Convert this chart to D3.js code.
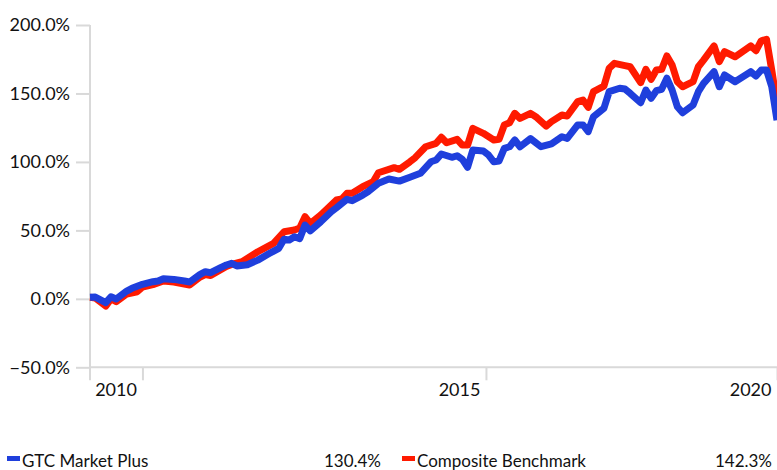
<!DOCTYPE html>
<html><head><meta charset="utf-8">
<script src="https://cdn.jsdelivr.net/npm/d3@7"></script>
<style>body{margin:0;background:#fff}svg{display:block}</style>
</head><body><svg id="c" width="777" height="470"></svg>
<script>
const yTicks = [-50, 0, 50, 100, 150, 200];
const xTickMonths = [10, 75.5, 131];
const xTickLabels = ["2010", "2015", "2020"];
const seriesNames = ["GTC Market Plus", "Composite Benchmark"];
const seriesTotals = ["130.4%", "142.3%"];
const seriesColors = ["#1f3fdc", "#ff1a00"];

const gtcMonths = [0,1,3,4,5,7,8,10,12,13,14,16,18,19,21,22,23,25,26,27,28,30,32,34,36,37,38,39,40,41,42,44,46,47,49,50,52,53,55,57,59,61,63,65,66,67,69,70,71,72,73,75,76,77,78,79,80,81,82,84,86,88,90,91,93,94,95,96,98,99,101,102,103,105,106,107,108,109,110,111,112,113,115,116,117,119,120,121,123,126,127,128,129,130,131];
const gtcValues = [1.1,1.3,-2.8,1.5,-0.1,5.7,7.7,10.6,12.5,13.0,14.7,14.2,13.0,12.3,17.9,19.8,19.1,23.0,24.7,25.9,24.0,24.9,28.3,32.7,36.9,43.5,43.0,45.4,44.0,53.9,49.7,56.3,63.6,66.5,72.7,71.7,75.8,78.2,84.4,87.5,86.0,88.8,91.7,100.1,101.4,105.8,103.4,104.5,101.9,96.1,108.7,108.0,105.0,100.1,100.7,109.9,111.1,116.0,111.1,117.0,111.1,113.1,118.4,117.2,127.0,127.0,122.1,133.0,139.2,151.3,153.8,153.2,150.1,143.2,152.5,146.5,152.0,153.0,161.1,152.5,140.3,135.9,141.6,151.3,157.4,165.9,154.9,163.5,158.6,165.9,162.7,167.1,167.1,154.9,130.4];

const benchMonths = [0,1,3,4,5,7,9,10,12,14,16,18,19,21,22,23,25,26,27,29,32,35,37,39,40,41,42,44,46,47,48,49,50,52,54,55,58,59,61,62,64,66,67,68,70,71,72,73,75,77,78,79,80,81,82,84,85,87,88,90,91,93,94,95,96,98,99,100,102,103,105,106,107,108,109,110,111,112,113,115,116,117,119,120,121,123,126,127,128,129,130,131];
const benchValues = [1.1,0.6,-5.3,-0.1,-2.1,3.5,5.2,8.6,10.4,13.0,12.3,10.8,10.1,15.9,17.7,17.0,21.4,23.6,25.1,27.1,34.4,40.5,49.0,50.3,51.7,60.0,55.1,61.2,68.5,72.2,72.9,77.1,77.1,81.9,85.5,92.1,95.8,94.6,100.1,103.1,111.1,113.6,118.0,114.0,116.5,112.3,112.3,124.5,120.9,116.0,116.5,127.0,128.6,135.5,131.8,135.5,133.0,126.2,129.4,134.3,133.5,144.0,145.2,139.9,151.3,155.4,168.4,172.0,170.3,169.5,157.9,167.6,160.3,167.1,167.6,177.4,170.8,158.6,154.9,158.6,169.5,174.4,184.7,173.2,180.5,176.8,184.7,181.2,188.5,189.6,167.1,142.3];

const FONT = "Lato, 'Open Sans', sans-serif";
const svg = d3.select("#c");
const x = d3.scaleLinear().domain([0, 131]).range([90, 777]);
const y = d3.scaleLinear().domain([-50, 200]).range([367.3, 25]);
const axisColor = "#d9d9d9";

// Y axis
const yAxis = svg.append("g").attr("transform", "translate(90,0)")
  .call(d3.axisLeft(y).tickValues(yTicks).tickSize(14).tickPadding(6)
        .tickFormat(d => d3.format(".1f")(d) + "%"));
yAxis.select(".domain").remove();
yAxis.selectAll(".tick line").attr("stroke", axisColor).attr("stroke-width", 2);
yAxis.selectAll(".tick text").attr("font-family", FONT).attr("font-size", 18).attr("fill", "#111");
svg.append("line").attr("x1", 90).attr("x2", 90).attr("y1", y(200)).attr("y2", y(-50) + 13)
  .attr("stroke", axisColor).attr("stroke-width", 2);

// X axis
const xAxis = svg.append("g").attr("transform", `translate(0,${y(-50)})`)
  .call(d3.axisBottom(x).tickValues(xTickMonths).tickSize(13).tickFormat((d, i) => xTickLabels[i]));
xAxis.select(".domain").remove();
xAxis.selectAll(".tick line").attr("stroke", axisColor).attr("stroke-width", 2);
xAxis.selectAll(".tick text").attr("font-family", FONT).attr("font-size", 18).attr("fill", "#111")
  .attr("text-anchor", "end").attr("x", -6).attr("y", 16).attr("dy", "0.71em");
svg.append("line").attr("x1", 90).attr("x2", 777).attr("y1", y(-50)).attr("y2", y(-50))
  .attr("stroke", axisColor).attr("stroke-width", 2);

// Lines
const line = d3.line().x(d => x(d[0])).y(d => y(d[1]));
const series = [
  d3.zip(gtcMonths, gtcValues),
  d3.zip(benchMonths, benchValues)
];
[1, 0].forEach(k => {
  svg.append("path").datum(series[k]).attr("d", line)
    .attr("fill", "none").attr("stroke", seriesColors[k]).attr("stroke-width", 7)
    .attr("stroke-linejoin", "round").attr("stroke-linecap", "butt");
});

// Legend
const legendX = [7, 402];
const legendValX = [381, 772];
seriesNames.forEach((name, k) => {
  svg.append("rect").attr("x", legendX[k]).attr("y", 456).attr("width", 13).attr("height", 5)
    .attr("fill", seriesColors[k]);
  svg.append("text").attr("x", legendX[k] + 15).attr("y", 467).text(name)
    .attr("font-family", FONT).attr("font-size", 17).attr("fill", "#111");
  svg.append("text").attr("x", legendValX[k]).attr("y", 467).text(seriesTotals[k])
    .attr("text-anchor", "end").attr("font-family", FONT).attr("font-size", 17).attr("fill", "#111");
});
</script>
</body></html>
